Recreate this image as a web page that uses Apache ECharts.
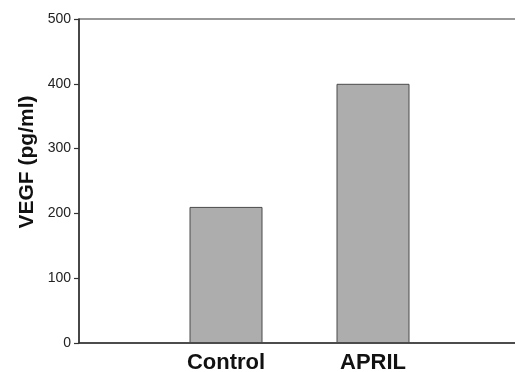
<!DOCTYPE html>
<html>
<head>
<meta charset="utf-8">
<script src="https://cdn.jsdelivr.net/npm/echarts@6/dist/echarts.min.js"></script>
<style>html,body{margin:0;padding:0;background:#fff;}#c{width:515px;height:372px;}</style>
</head>
<body>
<div id="c"></div>
<script>
var categories = ['', 'Control', 'APRIL', ''];
var values = [null, 210, 400, null];
var yTicks = [0, 100, 200, 300, 400, 500];
var yTitle = 'VEGF (pg/ml)';

var chart = echarts.init(document.getElementById('c'), null, {renderer: 'canvas'});
chart.setOption({
  animation: false,
  backgroundColor: '#ffffff',
  grid: {left: 79, width: 441, top: 19, bottom: 29, outerBoundsMode: 'none', containLabel: false, show: true, borderColor: '#333', borderWidth: 1.2, backgroundColor: 'transparent'},
  xAxis: {
    type: 'category',
    data: categories,
    boundaryGap: false,
    axisLine: {lineStyle: {color: '#333', width: 1.5}},
    axisTick: {show: false},
    axisLabel: {fontFamily: 'Liberation Sans, Arial, sans-serif', fontWeight: 'bold', fontSize: 22, color: '#111', margin: 9},
    splitLine: {show: false}
  },
  yAxis: {
    type: 'value',
    min: yTicks[0],
    max: yTicks[yTicks.length - 1],
    interval: 100,
    axisLine: {show: true, lineStyle: {color: '#333', width: 1.5}},
    axisTick: {show: true, length: 5, lineStyle: {color: '#333', width: 1.2}},
    axisLabel: {fontFamily: 'Liberation Sans, Arial, sans-serif', fontSize: 14, color: '#222', margin: 8},
    splitLine: {show: false}
  },
  graphic: [{
    type: 'text',
    x: 17,
    y: 162,
    rotation: Math.PI / 2,
    style: {
      text: yTitle,
      fontFamily: 'Liberation Sans, Arial, sans-serif',
      fontWeight: 'bold',
      fontSize: 21,
      fill: '#111',
      align: 'center',
      verticalAlign: 'top'
    }
  }],
  series: [{
    type: 'bar',
    data: values,
    barWidth: 73,
    itemStyle: {color: '#adadad', borderColor: '#4a4a4a', borderWidth: 1}
  }]
});
</script>
</body>
</html>
